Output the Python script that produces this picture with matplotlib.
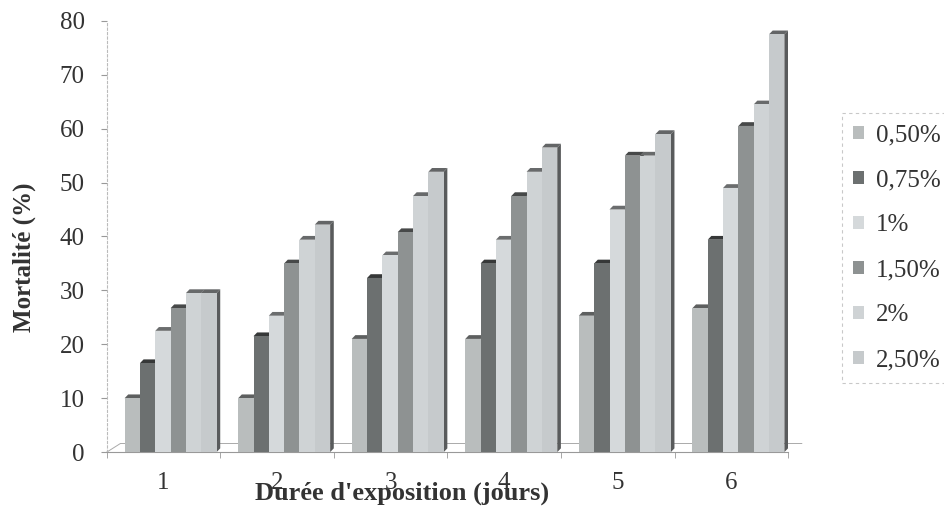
"""Mortalité cumulée selon la durée d'exposition et la concentration.

Histogramme groupé façon « colonnes 3D » (gris), sauvegardé dans out.png.
"""
import matplotlib.pyplot as plt
from matplotlib.patches import Polygon, Patch
import numpy as np

days = ["1", "2", "3", "4", "5", "6"]
doses = ["0,50%", "0,75%", "1%", "1,50%", "2%", "2,50%"]

mort_050 = [10, 10, 21, 21, 25.3, 26.7]
mort_075 = [16.5, 21.5, 32.3, 35, 35, 39.4]
mort_100 = [22.5, 25.3, 36.5, 39.4, 45, 49]
mort_150 = [26.7, 35, 40.8, 47.5, 55, 60.5]
mort_200 = [29.5, 39.4, 47.5, 52, 55, 64.5]
mort_250 = [29.5, 42.2, 52, 56.5, 59, 77.5]

series = [mort_050, mort_075, mort_100, mort_150, mort_200, mort_250]
colors = ["#b9bdbd", "#6c7070", "#d5d9db", "#8e9292", "#cfd3d5", "#c6cacc"]


def darker(c, f):
    r, g, b = [int(c[i:i + 2], 16) / 255 for i in (1, 3, 5)]
    return (r * f, g * f, b * f)


SERIF = ["Liberation Serif", "DejaVu Serif"]
plt.rcParams["font.family"] = SERIF

fig = plt.figure(figsize=(9.45, 5.08), dpi=100)
ax = fig.add_axes([0.113, 0.110, 0.721, 0.849])

x = np.arange(1, len(days) + 1)
w = 0.135          # largeur d'une colonne
start = -0.343     # bord gauche du groupe par rapport au centre
ddx, ddy = 0.032, 0.7  # profondeur (effet 3D)

z = 3
for xi in range(len(days)):
    for si, vals in enumerate(series):
        left = x[xi] + start + si * w
        v = vals[xi]
        c = colors[si]
        ax.bar(left, v, width=w, align="edge", color=c, edgecolor="none",
               zorder=z + 2)
        side = Polygon([(left + w, 0), (left + w + ddx, ddy),
                        (left + w + ddx, v + ddy), (left + w, v)],
                       closed=True, facecolor=darker(c, 0.45),
                       edgecolor="none", zorder=z)
        top = Polygon([(left, v), (left + ddx, v + ddy),
                       (left + w + ddx, v + ddy), (left + w, v)],
                      closed=True, facecolor=darker(c, 0.5),
                      edgecolor="none", zorder=z + 1)
        ax.add_patch(side)
        ax.add_patch(top)
        z += 3

# plancher
ax.plot([0.5, 0.5 + 0.12, 6.5 + 0.12], [0, 1.6, 1.6], color="#aaaaaa",
        lw=0.7, zorder=1, clip_on=False)

ax.set_xlim(0.5, 6.5)
ax.set_ylim(0, 80)
ax.set_yticks(range(0, 81, 10))
ax.set_xticks(x)
ax.set_xticklabels(days)
ax.set_xticks(np.arange(0.5, 6.6, 1), minor=True)
ax.tick_params(axis="x", which="major", length=0, pad=14,
               labelsize=18, labelcolor="#333333")
ax.tick_params(axis="x", which="minor", length=4, color="#999999",
               direction="out")
ax.tick_params(axis="y", length=4, color="#999999", pad=12,
               labelsize=18, labelcolor="#333333")

for s in ("top", "right"):
    ax.spines[s].set_visible(False)
ax.spines["left"].set_color("#bbbbbb")
ax.spines["left"].set_linestyle((0, (2, 2)))
ax.spines["left"].set_linewidth(0.8)
ax.spines["bottom"].set_color("#999999")
ax.spines["bottom"].set_linewidth(0.8)

fig.text(24 / 945, 1 - 257 / 508, "Mortalité (%)", rotation=90,
         ha="center", va="center", fontsize=18, fontweight="bold",
         color="#333333")
fig.text(402 / 945, 1 - 493 / 508, "Durée d'exposition (jours)",
         ha="center", va="center", fontsize=19, fontweight="bold",
         color="#333333")

handles = [Patch(facecolor=c, edgecolor="none") for c in colors]
leg = fig.legend(handles, doses, loc="upper left",
                 bbox_to_anchor=(842 / 945, 1 - 113 / 508),
                 fontsize=18, frameon=True, fancybox=False,
                 handlelength=0.45, handleheight=0.45, handletextpad=0.45,
                 labelspacing=0.92, borderpad=0.45, borderaxespad=0,
                 labelcolor="#333333")
fr = leg.get_frame()
fr.set_edgecolor("#bbbbbb")
fr.set_linestyle((0, (3, 3)))
fr.set_linewidth(0.8)

fig.savefig("out.png", dpi=100)
